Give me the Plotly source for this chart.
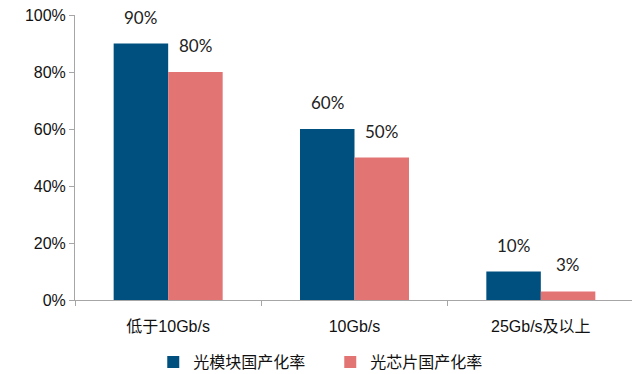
import plotly.graph_objects as go

categories = ["低于10Gb/s", "10Gb/s", "25Gb/s及以上"]
module_rate = [90, 60, 10]
chip_rate = [80, 50, 3]
series_names = ["光模块国产化率", "光芯片国产化率"]
y_ticks = [0, 20, 40, 60, 80, 100]

bargap = 0.415
half = (1 - bargap) / 4  # centre offset of each bar in a group of two

fig = go.Figure()
fig.add_trace(go.Bar(
    x=categories, y=module_rate, name=series_names[0],
    marker=dict(color="#00507F", line=dict(width=0)),
))
fig.add_trace(go.Bar(
    x=categories, y=chip_rate, name=series_names[1],
    marker=dict(color="#E37474", line=dict(width=0)),
))

label_font = dict(size=17, color="#222222", family="Lato, Noto Sans, sans-serif")
for i, (a, b) in enumerate(zip(module_rate, chip_rate)):
    fig.add_annotation(x=i - half, y=a, xref="x", yref="y", text=f"{a}%",
                       showarrow=False, yanchor="bottom", yshift=14, font=label_font)
    fig.add_annotation(x=i + half, y=b, xref="x", yref="y", text=f"{b}%",
                       showarrow=False, yanchor="bottom", yshift=14, font=label_font)

fig.update_layout(
    width=632, height=366,
    margin=dict(l=67, r=6, t=7, b=74, autoexpand=False),
    barmode="group", bargap=bargap, bargroupgap=0,
    plot_bgcolor="white", paper_bgcolor="white",
    font=dict(family="Liberation Sans, Arial, Noto Sans CJK SC, sans-serif", size=16, color="#111111"),
    showlegend=True,
    legend=dict(orientation="h", x=0.14, xanchor="left",
                y=-0.2175, yanchor="middle",
                font=dict(size=16, family="Noto Sans CJK SC, sans-serif"),
                itemwidth=30, entrywidth=132, entrywidthmode="pixels",
                traceorder="normal"),
    xaxis=dict(showline=True, linecolor="#A6A6A6", linewidth=1,
               ticks="outside", ticklen=5, tickcolor="#A6A6A6",
               tickson="boundaries", showgrid=False, zeroline=False,
               ticklabelstandoff=12,
               tickfont=dict(size=16, family="Liberation Sans, Noto Sans CJK SC, sans-serif")),
    yaxis=dict(range=[0, 100], tickvals=y_ticks, ticktext=[f"{v}%" for v in y_ticks],
               showline=True, linecolor="#A6A6A6", linewidth=1,
               ticks="outside", ticklen=5, tickcolor="#A6A6A6",
               ticklabeloverflow="allow",
               showgrid=False, zeroline=False,
               tickfont=dict(size=16, family="Liberation Sans, sans-serif")),
)

fig.write_html("out.html")
